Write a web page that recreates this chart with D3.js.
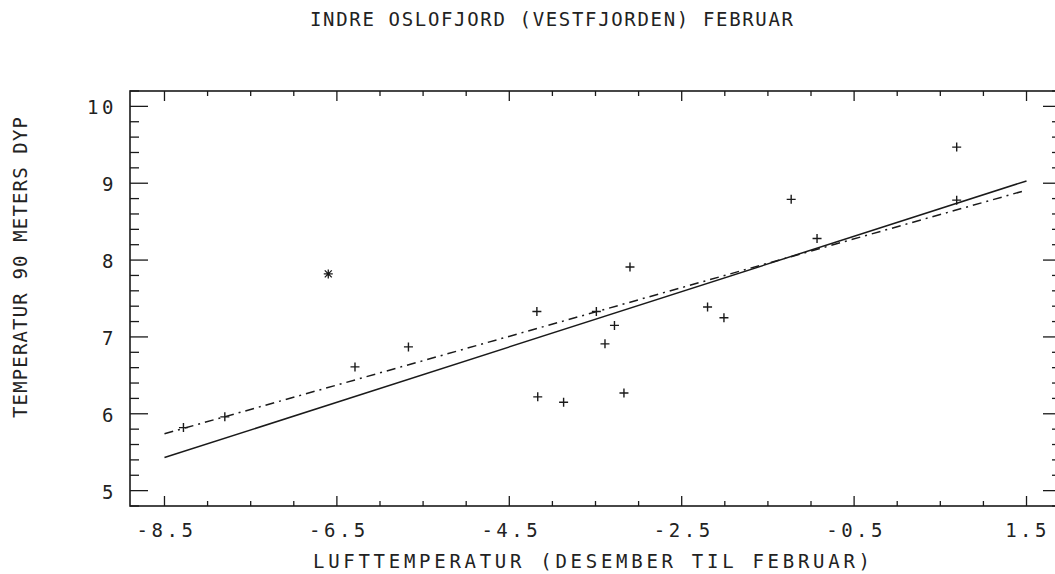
<!DOCTYPE html>
<html>
<head>
<meta charset="utf-8">
<script src="https://cdn.jsdelivr.net/npm/d3@7"></script>
<style>
  body { margin: 0; background: #fff; }
  svg text { font-family: "DejaVu Sans Mono", monospace; fill: #222; }
</style>
</head>
<body>
<svg id="chart" width="1055" height="574"></svg>
<script>
var pointX = [-8.28, -7.80, -6.29, -5.67, -4.18, -3.49, -3.10, -3.28, -3.39, -4.17, -3.87, -3.17, -2.20, -2.01, -1.23, -0.93, 0.69, 0.69];
var pointY = [5.82, 5.96, 6.61, 6.87, 7.33, 7.33, 7.91, 7.15, 6.91, 6.22, 6.15, 6.27, 7.39, 7.25, 8.79, 8.28, 9.47, 8.78];
// excluded year (drawn as asterisk)
var outlierX = [-6.60];
var outlierY = [7.82];
// regression lines: all points (dash-dot) and without outlier (solid)
var fitSolidX = [-8.5, 1.5];
var fitSolidY = [5.43, 9.03];
var fitDashX = [-8.5, 1.5];
var fitDashY = [5.74, 8.91];

var xMajor = [-8.5, -6.5, -4.5, -2.5, -0.5, 1.5];
var yMajor = [5, 6, 7, 8, 9, 10];

(function(){
var svg = d3.select("#chart");
var mLeft = 130, mRight = 1061, mTop = 91, mBottom = 506;

var x = d3.scaleLinear().domain([-8.9, 1.9]).range([mLeft, mRight]);
var y = d3.scaleLinear().domain([4.8, 10.2]).range([mBottom, mTop]);

var ink = "#1a1a1a";

// frame
svg.append("rect")
  .attr("x", mLeft).attr("y", mTop)
  .attr("width", mRight - mLeft).attr("height", mBottom - mTop)
  .attr("fill", "none").attr("stroke", ink).attr("stroke-width", 1.6);

// ticks on all four sides
var xMinor = d3.range(-8.5, 1.51, 0.5);
var yMinor = d3.range(4.8, 10.21, 0.2).map(function(v){ return +v.toFixed(1); });
function isMajorX(v){ return xMajor.some(function(m){ return Math.abs(m - v) < 1e-6; }); }
function isMajorY(v){ return yMajor.some(function(m){ return Math.abs(m - v) < 1e-6; }); }

var ticks = svg.append("g").attr("stroke", ink).attr("stroke-width", 1.3);
xMinor.forEach(function(v){
  var len = isMajorX(v) ? 10 : 5;
  ticks.append("line").attr("x1", x(v)).attr("x2", x(v)).attr("y1", mTop).attr("y2", mTop + len);
  ticks.append("line").attr("x1", x(v)).attr("x2", x(v)).attr("y1", mBottom).attr("y2", mBottom - len);
});
yMinor.forEach(function(v){
  var len = isMajorY(v) ? 18 : 9;
  ticks.append("line").attr("y1", y(v)).attr("y2", y(v)).attr("x1", mLeft).attr("x2", mLeft + len);
  ticks.append("line").attr("y1", y(v)).attr("y2", y(v)).attr("x1", mRight).attr("x2", mRight - len);
});

// tick labels
svg.append("g").selectAll("text")
  .data(xMajor).enter().append("text")
  .attr("x", function(d){ return d >= 0 ? 1050 : x(d) + 2; })
  .attr("y", 537)
  .attr("text-anchor", function(d){ return d >= 0 ? "end" : "middle"; })
  .attr("font-size", 19)
  .attr("letter-spacing", 3.5)
  .text(function(d){ return d3.format(".1f")(d).replace("−", "-"); });

svg.append("g").selectAll("text")
  .data(yMajor).enter().append("text")
  .attr("x", 117)
  .attr("y", function(d){ return y(d) + 8; })
  .attr("text-anchor", "end")
  .attr("font-size", 19)
  .attr("letter-spacing", 3.5)
  .text(function(d){ return d; });

// titles
svg.append("text")
  .attr("x", 310).attr("y", 26)
  .attr("font-size", 19)
  .attr("textLength", 483).attr("lengthAdjust", "spacing")
  .text("INDRE OSLOFJORD (VESTFJORDEN) FEBRUAR");

svg.append("text")
  .attr("x", 313).attr("y", 568)
  .attr("font-size", 19)
  .attr("textLength", 557).attr("lengthAdjust", "spacing")
  .text("LUFTTEMPERATUR (DESEMBER TIL FEBRUAR)");

svg.append("text")
  .attr("transform", "translate(27,418) rotate(-90)")
  .attr("font-size", 19)
  .attr("textLength", 301).attr("lengthAdjust", "spacing")
  .text("TEMPERATUR 90 METERS DYP");

// regression lines
var line = d3.line()
  .x(function(d){ return x(d[0]); })
  .y(function(d){ return y(d[1]); });

svg.append("path")
  .attr("d", line(d3.zip(fitSolidX, fitSolidY)))
  .attr("fill", "none").attr("stroke", ink).attr("stroke-width", 1.5);

svg.append("path")
  .attr("d", line(d3.zip(fitDashX, fitDashY)))
  .attr("fill", "none").attr("stroke", ink).attr("stroke-width", 1.5)
  .attr("stroke-dasharray", "9,5,2,5");

// points
svg.append("g").selectAll("path")
  .data(d3.zip(pointX, pointY)).enter().append("path")
  .attr("transform", function(d){ return "translate(" + x(d[0]) + "," + y(d[1]) + ")"; })
  .attr("d", "M-4.5,0H4.5M0,-4.5V4.5")
  .attr("stroke", ink).attr("stroke-width", 1.4).attr("fill", "none");

svg.append("g").selectAll("path")
  .data(d3.zip(outlierX, outlierY)).enter().append("path")
  .attr("transform", function(d){ return "translate(" + x(d[0]) + "," + y(d[1]) + ")"; })
  .attr("d", "M-4.5,0H4.5M0,-4.5V4.5M-3.5,-3.5L3.5,3.5M-3.5,3.5L3.5,-3.5")
  .attr("stroke", ink).attr("stroke-width", 1.3).attr("fill", "none");
})();
</script>
</body>
</html>
